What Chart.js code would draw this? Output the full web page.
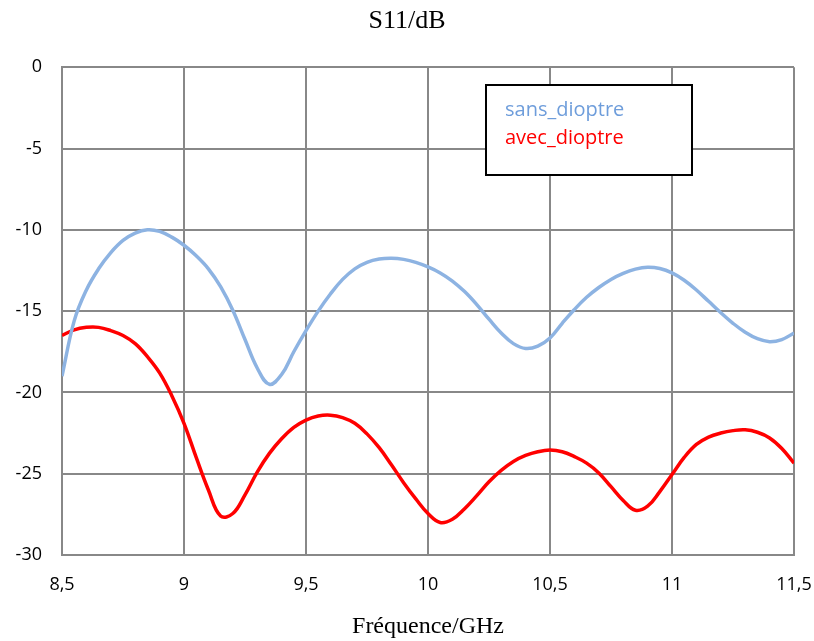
<!DOCTYPE html>
<html>
<head>
<meta charset="utf-8">
<script src="https://cdn.jsdelivr.net/npm/chart.js@4"></script>
<style>
  html, body { margin: 0; padding: 0; background: #fff; }
  #wrap { width: 814px; height: 641px; }
</style>
</head>
<body>
<div id="wrap"><canvas id="myChart" width="814" height="641"></canvas></div>
<script>
// frequency (GHz) and S11 (dB)
const freq = [8.5, 8.55, 8.6, 8.65, 8.7, 8.75, 8.8, 8.85, 8.9, 8.95,
  9.0, 9.05, 9.1, 9.15, 9.2, 9.25, 9.3, 9.35, 9.4, 9.45,
  9.5, 9.55, 9.6, 9.65, 9.7, 9.75, 9.8, 9.85, 9.9, 9.95,
  10.0, 10.05, 10.1, 10.15, 10.2, 10.25, 10.3, 10.35, 10.4, 10.45,
  10.5, 10.55, 10.6, 10.65, 10.7, 10.75, 10.8, 10.85, 10.9, 10.95,
  11.0, 11.05, 11.1, 11.15, 11.2, 11.25, 11.3, 11.35, 11.4, 11.45, 11.5];

const sansDioptre = [-19.0, -15.6, -13.7, -12.4, -11.4, -10.65, -10.2, -10.0, -10.1, -10.45,
  -10.95, -11.6, -12.4, -13.5, -14.95, -16.75, -18.5, -19.5, -18.9, -17.5,
  -16.2, -15.0, -13.95, -13.05, -12.4, -12.0, -11.8, -11.75, -11.82, -12.0,
  -12.28, -12.65, -13.15, -13.8, -14.6, -15.5, -16.35, -17.0, -17.3, -17.15,
  -16.65, -15.75, -14.9, -14.15, -13.55, -13.05, -12.68, -12.42, -12.3, -12.38,
  -12.65, -13.1, -13.7, -14.4, -15.1, -15.75, -16.3, -16.7, -16.88, -16.75, -16.35];

const avecDioptre = [-16.5, -16.15, -16.0, -16.0, -16.2, -16.5, -17.0, -17.8, -18.8, -20.2,
  -21.9, -24.0, -26.0, -27.6, -27.45, -26.3, -24.9, -23.75, -22.85, -22.15,
  -21.7, -21.45, -21.4, -21.55, -21.9, -22.55, -23.4, -24.45, -25.55, -26.55,
  -27.45, -28.0, -27.8, -27.15, -26.35, -25.5, -24.8, -24.25, -23.88, -23.65,
  -23.55, -23.65, -23.95, -24.35, -24.95, -25.8, -26.65, -27.25, -27.0, -26.1,
  -25.05, -24.0, -23.2, -22.75, -22.5, -22.35, -22.3, -22.45, -22.8, -23.45, -24.35];

const xTicks = [8.5, 9, 9.5, 10, 10.5, 11, 11.5];
const yTicks = [0, -5, -10, -15, -20, -25, -30];

const toPoints = ys => freq.map((x, i) => ({ x: x, y: ys[i] }));
const fmt = v => String(v).replace('.', ',');

// text-only legend in a framed box
const boxLegend = {
  id: 'boxLegend',
  afterDraw(chart) {
    const c = chart.ctx;
    c.save();
    c.strokeStyle = '#000';
    c.lineWidth = 2;
    c.fillStyle = '#fff';
    c.fillRect(486, 85, 206, 90);
    c.strokeRect(486, 85, 206, 90);
    c.font = '20px "Open Sans"';
    c.textBaseline = 'middle';
    c.textAlign = 'left';
    chart.data.datasets.forEach((ds, i) => {
      c.fillStyle = ds.legendColor;
      c.fillText(ds.label, 505, 110 + i * 28);
    });
    c.restore();
  }
};

const ctx = document.getElementById('myChart').getContext('2d');
const chart = new Chart(ctx, {
  type: 'line',
  data: {
    datasets: [{
      label: 'sans_dioptre',
      data: toPoints(sansDioptre),
      borderColor: '#8DB3E2',
      legendColor: '#6E9DDB',
      borderWidth: 3.5,
      pointRadius: 0,
      tension: 0.4
    }, {
      label: 'avec_dioptre',
      data: toPoints(avecDioptre),
      borderColor: '#FF0000',
      legendColor: '#FF0000',
      borderWidth: 3.5,
      pointRadius: 0,
      tension: 0.4
    }]
  },
  options: {
    responsive: false,
    animation: false,
    layout: { padding: 0 },
    plugins: {
      legend: { display: false },
      tooltip: { enabled: false },
      title: {
        display: true,
        text: 'S11/dB',
        color: '#000',
        font: { family: '"Liberation Serif"', size: 26, weight: 'normal' },
        padding: { top: 6, bottom: 30 }
      }
    },
    scales: {
      x: {
        type: 'linear',
        min: 8.5,
        max: 11.5,
        afterBuildTicks: s => { s.ticks = xTicks.map(v => ({ value: v })); },
        afterFit: s => { s.height = 86; s.paddingLeft = 0; s.paddingRight = 20; },
        ticks: {
          color: '#000',
          font: { family: '"Open Sans"', size: 18 },
          padding: 19,
          maxRotation: 0,
          callback: v => fmt(v)
        },
        grid: { color: '#888', lineWidth: 2, drawTicks: false },
        border: { color: '#888', width: 2 },
        title: {
          display: true,
          text: 'Fréquence/GHz',
          color: '#000',
          font: { family: '"Liberation Serif"', size: 24 },
          padding: { top: 0, bottom: 0 }
        }
      },
      y: {
        min: -30,
        max: 0,
        afterBuildTicks: s => { s.ticks = yTicks.map(v => ({ value: v })); },
        afterFit: s => { s.width = 62; s.paddingTop = 0; s.paddingBottom = 0; },
        ticks: {
          color: '#000',
          font: { family: '"Open Sans"', size: 18 },
          padding: 20,
          callback: v => fmt(v)
        },
        grid: { color: '#888', lineWidth: 2, drawTicks: false },
        border: { color: '#888', width: 2 }
      }
    }
  },
  plugins: [boxLegend]
});
</script>
</body>
</html>
